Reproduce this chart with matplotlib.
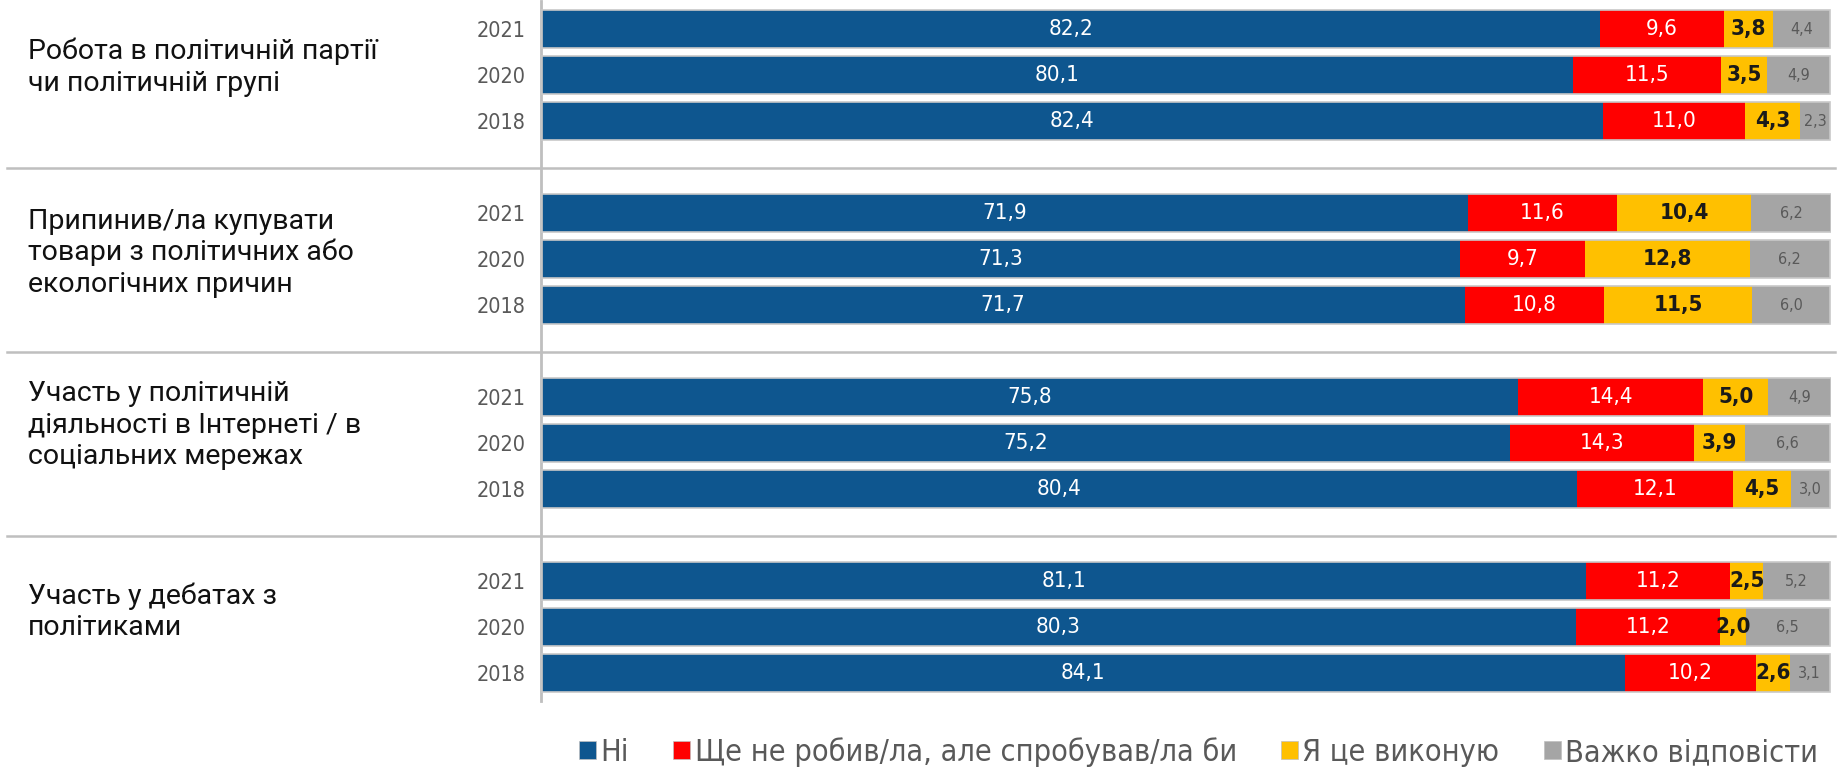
import numpy as np
import matplotlib
matplotlib.use("Agg")
import matplotlib.pyplot as plt
from matplotlib import font_manager
from matplotlib.transforms import blended_transform_factory
from matplotlib.patches import Patch

# -------------------
# Data
# -------------------
groups = [
    "Робота в політичній партії\nчи політичній групі",
    "Припинив/ла купувати\nтовари з політичних або\nекологічних причин",
    "Участь у політичній\nдіяльності в Інтернеті / в\nсоціальних мережах",
    "Участь у дебатах з\nполітиками",
]
years = ["2021", "2020", "2018"]
series_names = ["Ні", "Ще не робив/ла, але спробував/ла би", "Я це виконую", "Важко відповісти"]

# rows: group x year (2021, 2020, 2018)
ni = [[82.2, 80.1, 82.4], [71.9, 71.3, 71.7], [75.8, 75.2, 80.4], [81.1, 80.3, 84.1]]
would_try = [[9.6, 11.5, 11.0], [11.6, 9.7, 10.8], [14.4, 14.3, 12.1], [11.2, 11.2, 10.2]]
doing = [[3.8, 3.5, 4.3], [10.4, 12.8, 11.5], [5.0, 3.9, 4.5], [2.5, 2.0, 2.6]]
hard = [[4.4, 4.9, 2.3], [6.2, 6.2, 6.0], [4.9, 6.6, 3.0], [5.2, 6.5, 3.1]]

colors = ["#0E568F", "#FF0000", "#FFC000", "#A5A5A5"]
text_colors = ["white", "white", "#1a1a1a", "#595959"]
text_sizes = [16, 16, 16, 11.5]
text_weights = ["normal", "normal", "bold", "normal"]

installed = {f.name for f in font_manager.fontManager.ttflist}
COND = "DejaVu Sans"
LABEL_FONT = "Roboto" if "Roboto" in installed else "DejaVu Sans"


def fmt(v):
    return f"{v:.1f}".replace(".", ",")


def main():
    fig = plt.figure(figsize=(18.42, 7.69), dpi=100)
    ax = fig.add_axes([541 / 1842, 1 - 700.6 / 769, 1290 / 1842, (700.6 - 1.4) / 769])

    series = [np.array(ni), np.array(would_try), np.array(doing), np.array(hard)]
    n_groups, n_years = series[0].shape
    ypos = np.array([[g * 4 + i for i in range(n_years)] for g in range(n_groups)], dtype=float)

    left = np.zeros_like(series[0])
    for k, vals in enumerate(series):
        ax.barh(ypos.ravel(), vals.ravel(), left=left.ravel(), height=0.83,
                color=colors[k], edgecolor="none", zorder=2)
        for g in range(n_groups):
            for i in range(n_years):
                ax.text(left[g, i] + vals[g, i] / 2, ypos[g, i], fmt(vals[g, i]),
                        ha="center", va="center", color=text_colors[k],
                        fontsize=text_sizes[k], fontweight=text_weights[k],
                        family=COND, fontstretch="condensed", zorder=3)
        left = left + vals

    # light outline round each full bar
    ax.barh(ypos.ravel(), left.ravel(), height=0.83, fill=False,
            edgecolor="#C8C8C8", linewidth=1.2, zorder=4)

    ax.set_xlim(0, 100.1)
    ax.set_ylim(14.6, -0.6)
    ax.set_yticks(ypos.ravel())
    ax.set_yticklabels(years * n_groups, fontsize=15.5, color="#595959", family=COND,
                       fontstretch="condensed")
    ax.tick_params(axis="y", length=0, pad=11)
    ax.set_xticks([])
    for s in ["top", "right", "bottom"]:
        ax.spines[s].set_visible(False)
    ax.spines["left"].set_color("#BFBFBF")
    ax.spines["left"].set_linewidth(2)

    # separators across the whole figure
    tr = blended_transform_factory(fig.transFigure, ax.transData)
    for g in range(n_groups - 1):
        y_sep = ypos[g, -1] + 1.02
        fig.add_artist(plt.Line2D([0.004, 0.996], [y_sep, y_sep], transform=tr,
                                  color="#BFBFBF", linewidth=1.8))

    # group labels on the left
    offsets = [-0.17, -0.14, -0.39, -0.33]
    for g, name in enumerate(groups):
        fig.add_artist(plt.Text(28 / 1842, ypos[g, 1] + offsets[g], name, transform=tr,
                                ha="left", va="center", fontsize=20.5, color="#111111",
                                family=LABEL_FONT, linespacing=1.2))

    handles = [Patch(facecolor=c, edgecolor="#BFBFBF", linewidth=0.5) for c in colors]
    leg = fig.legend(handles, series_names, loc="center right", bbox_to_anchor=(1.002, 0.022),
                     ncol=4, frameon=False, handlelength=0.55, handleheight=0.55,
                     handletextpad=0.15, columnspacing=1.45,
                     prop={"family": COND, "size": 22, "stretch": "condensed"})
    for t in leg.get_texts():
        t.set_color("#595959")

    fig.savefig("out.png", dpi=100, facecolor="white")
    plt.close(fig)


if __name__ == "__main__":
    main()
